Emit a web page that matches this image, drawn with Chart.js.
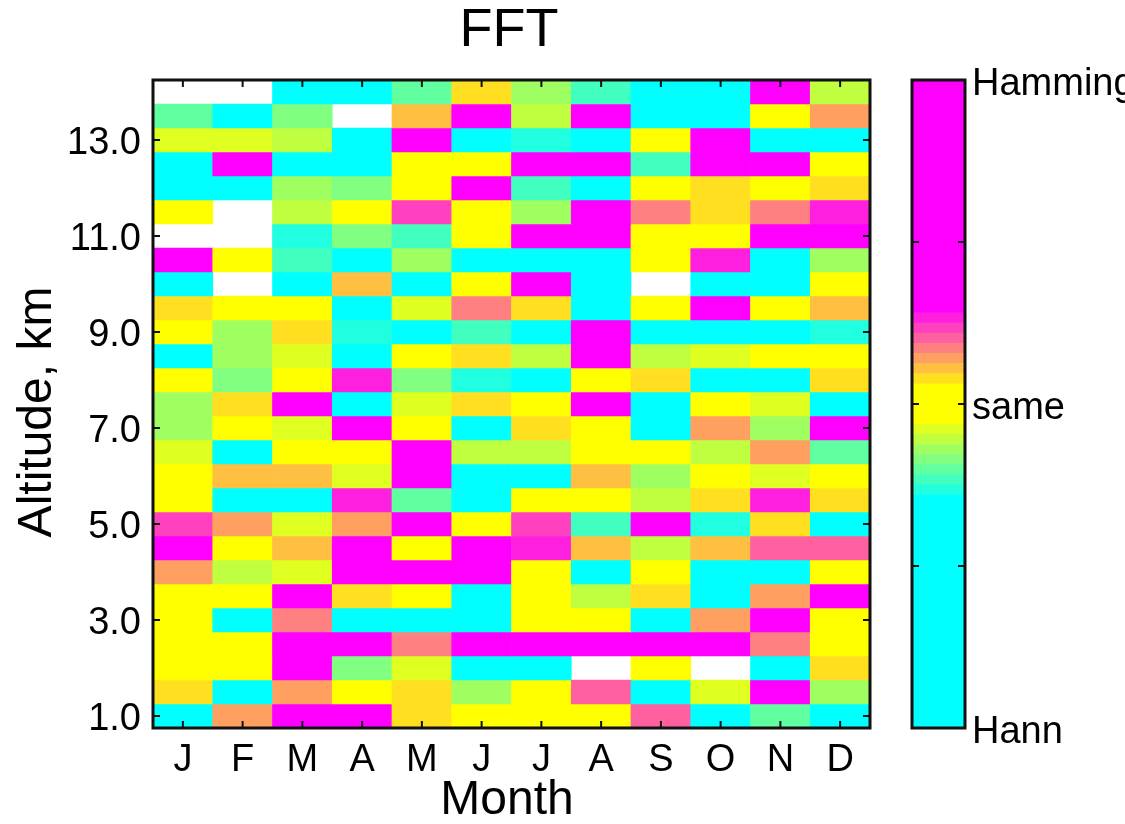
<!DOCTYPE html>
<html>
<head>
<meta charset="utf-8">
<script src="https://cdn.jsdelivr.net/npm/chart.js@4.4.0/dist/chart.umd.min.js"></script>
<style>
  html, body { margin: 0; padding: 0; background: #fff; overflow: hidden; }
  #wrap { position: relative; width: 1125px; height: 824px; }
  #main { position: absolute; left: 0; top: 0; }
  #bar { position: absolute; left: 880px; top: 0; }
</style>
</head>
<body>
<div id="wrap">
  <canvas id="main" width="1125" height="824"></canvas>
  <canvas id="bar" width="245" height="824"></canvas>
</div>
<script>
const months = ['J', 'F', 'M', 'A', 'M', 'J', 'J', 'A', 'S', 'O', 'N', 'D'];
const altitudes = [14.0, 13.5, 13.0, 12.5, 12.0, 11.5, 11.0, 10.5, 10.0, 9.5, 9.0, 8.5, 8.0,
                   7.5, 7.0, 6.5, 6.0, 5.5, 5.0, 4.5, 4.0, 3.5, 3.0, 2.5, 2.0, 1.5, 1.0];
const altTicks = [1, 3, 5, 7, 9, 11, 13];

// window code per cell: -8 = Hann, 0 = same, 8 = Hamming, null = no data
const W = null;
const windowCode = [
  [W, W, -8, -8, -5, 1, -3, -6, -8, -8, 8, -2],
  [-5, -8, -4, W, 2, 8, -2, 8, -8, -8, 0, 3],
  [-1, -1, -2, -8, 8, -8, -7, -8, 0, 8, -8, -8],
  [-8, 8, -8, -8, 0, 0, 8, 8, -6, 8, 8, 0],
  [-8, -8, -3, -4, 0, 8, -6, -8, 0, 1, 0, 1],
  [0, W, -2, 0, 6, 0, -3, 8, 4, 1, 4, 7],
  [W, W, -7, -4, -6, 0, 8, 8, 0, 0, 8, 8],
  [8, 0, -6, -8, -3, -8, -8, -8, 0, 7, -8, -3],
  [-8, W, -8, 2, -8, 0, 8, -8, W, -8, -8, 0],
  [1, 0, 0, -8, -1, 4, 1, -8, 0, 8, 0, 2],
  [0, -3, 1, -7, -8, -6, -8, 8, -8, -8, -8, -7],
  [-8, -3, -1, -8, 0, 1, -2, 8, -2, -1, 0, 0],
  [0, -4, 0, 7, -4, -7, -8, 0, 1, -8, -8, 1],
  [-3, 1, 8, -8, -1, 1, 0, 8, -8, 0, -1, -8],
  [-3, 0, -1, 8, 0, -8, 1, 0, -8, 3, -3, 8],
  [-1, -8, 0, 0, 8, -2, -2, 0, 0, -2, 3, -5],
  [0, 2, 2, -1, 8, -8, -8, 2, -3, 0, -1, 0],
  [0, -8, -8, 7, -5, -8, 0, 0, -2, 1, 7, 1],
  [6, 3, -1, 3, 8, 0, 6, -6, 8, -7, 1, -8],
  [8, 0, 2, 8, 0, 8, 7, 2, -2, 2, 5, 5],
  [3, -2, -1, 8, 8, 8, 0, -8, 0, -8, -8, 0],
  [0, 0, 8, 1, 0, -8, 0, -2, 1, -8, 3, 8],
  [0, -8, 4, -8, -8, -8, 0, 0, -8, 3, 8, 0],
  [0, 0, 8, 8, 4, 8, 8, 8, 8, 8, 4, 0],
  [0, 0, 8, -4, -1, -8, -8, W, 0, W, -8, 1],
  [1, -8, 3, 0, 1, -3, 0, 5, -8, -1, 8, -3],
  [-8, 3, 8, 8, 1, 0, 0, 0, 5, -8, -5, -8]
];

const cbCodes = [-8, -7, -6, -5, -4, -3, -2, -1, 0, 1, 2, 3, 4, 5, 6, 7, 8];
const cbTicks = [0, 16, 32, 48, 64];
const cbLabels = ['Hann', '', 'same', '', 'Hamming'];

const FONT = '"Liberation Sans", Arial, sans-serif';

// cyan -> yellow -> magenta
function codeColor(c) {
  if (c <= 0) {
    const t = (c + 8) / 8;
    return `rgb(${Math.round(255 * t)},255,${Math.round(255 * (1 - t))})`;
  }
  const t = c / 8;
  return `rgb(255,${Math.round(255 * (1 - t))},${Math.round(255 * t)})`;
}

// level span of each code in the 64-step colormap
function levelRange(c) {
  if (c === -8) return [0, 23];
  if (c < 0) return [30 + c, 31 + c];
  if (c === 0) return [30, 34];
  if (c < 8) return [33 + c, 34 + c];
  return [41, 64];
}

const rowSets = altitudes.map((alt, r) => ({
  data: windowCode[r].map(c => c === null ? null : [alt - 0.25, alt + 0.25]),
  backgroundColor: windowCode[r].map(c => c === null ? '#fff' : codeColor(c)),
  borderWidth: 0,
  grouped: false,
  barPercentage: 1,
  categoryPercentage: 1
}));

const frameTicks = {
  id: 'frameTicks',
  afterDraw(chart) {
    const { ctx, chartArea: a, scales: { x, y } } = chart;
    ctx.save();
    ctx.strokeStyle = '#111';
    ctx.lineWidth = 2;
    ctx.beginPath();
    months.forEach((m, i) => {
      const px = x.getPixelForValue(i);
      ctx.moveTo(px, a.top); ctx.lineTo(px, a.top + 7);
      ctx.moveTo(px, a.bottom); ctx.lineTo(px, a.bottom - 7);
    });
    altTicks.forEach(v => {
      const py = y.getPixelForValue(v);
      ctx.moveTo(a.left, py); ctx.lineTo(a.left + 7, py);
      ctx.moveTo(a.right, py); ctx.lineTo(a.right - 7, py);
    });
    ctx.stroke();
    ctx.lineWidth = 3;
    ctx.strokeRect(a.left, a.top, a.right - a.left, a.bottom - a.top);

    ctx.fillStyle = '#000';
    ctx.textAlign = 'center';
    ctx.textBaseline = 'middle';
    ctx.font = '54px ' + FONT;
    ctx.fillText('FFT', 509, 31);
    ctx.font = '48px ' + FONT;
    ctx.fillText('Month', 507, 801);
    ctx.translate(38, 412);
    ctx.rotate(-Math.PI / 2);
    ctx.fillText('Altitude, km', 0, 0);
    ctx.restore();
  }
};

new Chart(document.getElementById('main'), {
  type: 'bar',
  data: { labels: months, datasets: rowSets },
  options: {
    responsive: false,
    animation: false,
    layout: { padding: { top: 80, right: 255, left: 0, bottom: 0 } },
    plugins: { legend: { display: false }, tooltip: { enabled: false } },
    scales: {
      x: {
        grid: { display: false, drawTicks: false },
        border: { display: false },
        ticks: { color: '#000', font: { family: FONT, size: 38 }, padding: 10, autoSkip: false, maxRotation: 0 },
        afterFit: s => { s.height = 96; }
      },
      y: {
        min: 0.75,
        max: 14.25,
        grid: { display: false, drawTicks: false },
        border: { display: false },
        afterBuildTicks: s => { s.ticks = altTicks.map(v => ({ value: v })); },
        ticks: { color: '#000', font: { family: FONT, size: 38 }, padding: 12, labelOffset: 4, autoSkip: false,
                 callback: v => v.toFixed(1) },
        afterFit: s => { s.width = 153; }
      }
    }
  },
  plugins: [frameTicks]
});

const barFrame = {
  id: 'barFrame',
  afterDraw(chart) {
    const { ctx, chartArea: a, scales: { y } } = chart;
    ctx.save();
    ctx.strokeStyle = '#111';
    ctx.lineWidth = 2;
    ctx.beginPath();
    cbTicks.forEach(v => {
      const py = y.getPixelForValue(v);
      ctx.moveTo(a.left, py); ctx.lineTo(a.left + 7, py);
      ctx.moveTo(a.right, py); ctx.lineTo(a.right - 7, py);
    });
    ctx.stroke();
    ctx.lineWidth = 3;
    ctx.strokeRect(a.left, a.top, a.right - a.left, a.bottom - a.top);
    ctx.restore();
  }
};

new Chart(document.getElementById('bar'), {
  type: 'bar',
  data: {
    labels: ['cb'],
    datasets: cbCodes.map(c => ({
      data: [levelRange(c)],
      backgroundColor: codeColor(c),
      borderWidth: 0,
      grouped: false,
      barPercentage: 1,
      categoryPercentage: 1
    }))
  },
  options: {
    responsive: false,
    animation: false,
    layout: { padding: { left: 32, top: 80, bottom: 96, right: 0 } },
    plugins: { legend: { display: false }, tooltip: { enabled: false } },
    scales: {
      x: { display: false },
      y: {
        position: 'right',
        min: 0,
        max: 64,
        grid: { display: false, drawTicks: false },
        border: { display: false },
        afterBuildTicks: s => { s.ticks = cbTicks.map(v => ({ value: v })); },
        ticks: { color: '#000', font: { family: FONT, size: 38 }, padding: 7, labelOffset: 5, autoSkip: false,
                 callback: v => cbLabels[cbTicks.indexOf(v)] },
        afterFit: s => { s.width = 160; }
      }
    }
  },
  plugins: [barFrame]
});
</script>
</body>
</html>
